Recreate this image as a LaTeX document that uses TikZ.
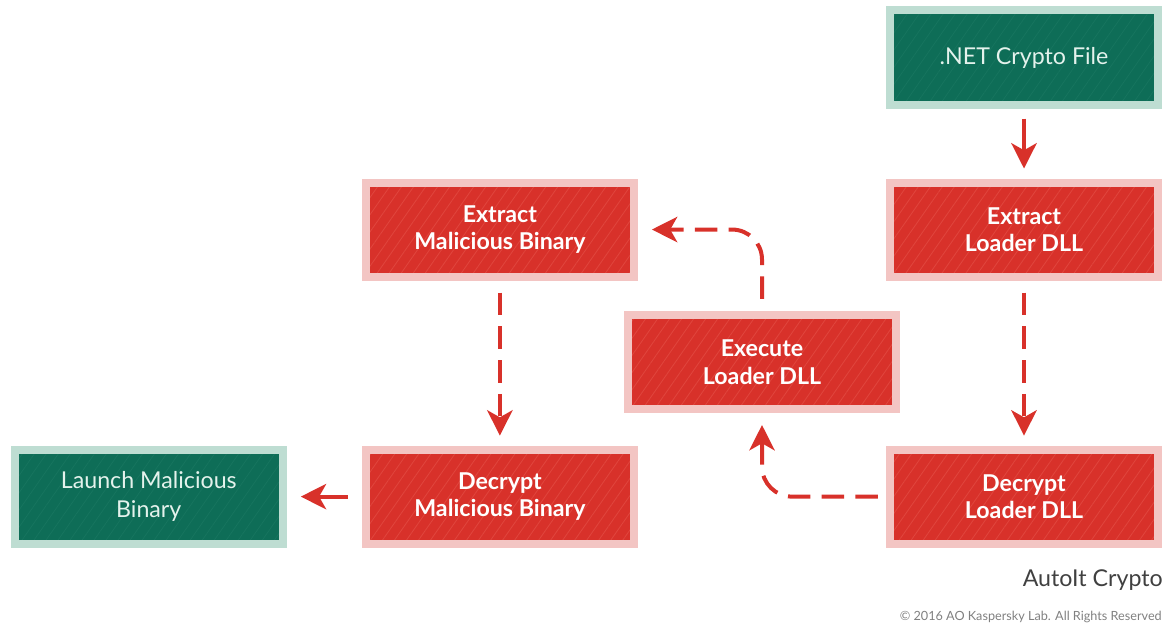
\documentclass[tikz,border=0pt]{standalone}
\usepackage{fontspec}
\setmainfont{Lato}
\usetikzlibrary{positioning,arrows.meta,patterns.meta}

\definecolor{kred}{HTML}{D8312A}
\definecolor{kredrim}{HTML}{F3C5C3}
\definecolor{kredline}{HTML}{E0453D}
\definecolor{kgreen}{HTML}{0E6D57}
\definecolor{kgreenrim}{HTML}{BEDDD2}
\definecolor{kgreenline}{HTML}{17755F}
\definecolor{kgreentext}{HTML}{E4F2EC}

\begin{document}
\begin{tikzpicture}[x=0.025cm,y=0.025cm,node distance=1.75cm,
  box/.style={line width=0.2cm,minimum width=6.7cm,minimum height=2.35cm,
    align=center,inner sep=0pt},
  red node/.style={box,draw=kredrim,fill=kred,text=white,
    font=\bfseries\fontsize{16.5}{19.5}\selectfont,
    path picture={\fill[pattern={Lines[angle=55,distance=7pt,line width=0.6pt]},
      pattern color=kredline] (path picture bounding box.south west)
      rectangle (path picture bounding box.north east);}},
  green node/.style={box,draw=kgreenrim,fill=kgreen,text=kgreentext,
    font=\fontsize{16.5}{20.5}\selectfont,
    path picture={\fill[pattern={Lines[angle=55,distance=7pt,line width=0.5pt]},
      pattern color=kgreenline] (path picture bounding box.south west)
      rectangle (path picture bounding box.north east);}},
  flow/.style={draw=kred,line width=0.1cm,
    -{Stealth[length=18pt,width=18pt,inset=5pt]}},
  dashflow/.style={flow,dash pattern=on 16pt off 8pt,rounded corners=0.75cm}]
  \useasboundingbox (0,0) rectangle (1164,-623);

  \node[green node] (net) at (1024,-57.5) {.NET Crypto File};
  \node[red node] (extdll) [below=of net] {Extract\\Loader DLL};
  \node[red node] (decdll) [below=4.125cm of extdll] {Decrypt\\Loader DLL};
  \node[red node] (exedll) at (762,-362) {Execute\\Loader DLL};
  \node[red node] (extbin) [left=6.2cm of extdll] {Extract\\Malicious Binary};
  \node[red node] (decbin) [left=6.2cm of decdll] {Decrypt\\Malicious Binary};
  \node[green node] (launch) [left=1.875cm of decbin] {Launch Malicious\\Binary};

  \node[anchor=east,text=black!75,font=\fontsize{16.5}{19}\selectfont,inner sep=0pt]
    (title) at (1163,-580) {AutoIt Crypto};
  \node[anchor=east,text=black!50,font=\fontsize{9}{11}\selectfont,inner sep=0pt]
    (copy) at (1162,-617) {© 2016 AO Kaspersky Lab. All Rights Reserved};

  \draw[flow,shorten <=0.25cm,shorten >=0.25cm] (net) -- (extdll);
  \draw[dashflow,shorten <=0.3cm,shorten >=0.25cm] (extdll) -- (decdll);
  \draw[dashflow,shorten <=0.3cm,shorten >=0.25cm] (extbin) -- (decbin);
  \draw[dashflow,shorten <=0.2cm,shorten >=0.3cm] (decdll.west) -| (exedll.south);
  \draw[dashflow,shorten <=0.3cm,shorten >=0.35cm] (exedll.north) |- (extbin.east);
  \draw[flow,shorten <=0.35cm,shorten >=0.35cm] (decbin.west) -- (launch.east);
\end{tikzpicture}
\end{document}
